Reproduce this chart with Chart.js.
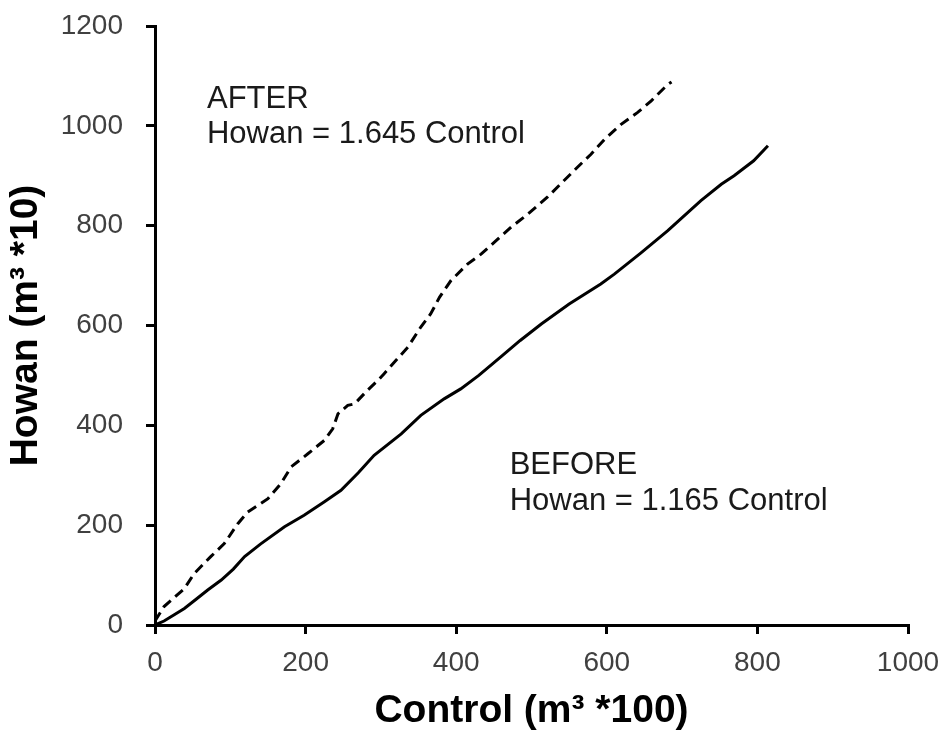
<!DOCTYPE html>
<html>
<head>
<meta charset="utf-8">
<script src="https://cdn.jsdelivr.net/npm/chart.js@4"></script>
<style>
  html, body { margin: 0; padding: 0; background: #fff; }
  #wrap { width: 949px; height: 736px; }
</style>
</head>
<body>
<div id="wrap"><canvas id="howan"></canvas></div>
<script>
// ---- data ----
// BEFORE (solid line)
const beforeX = [0, 12, 25, 39, 55, 70, 88, 104, 119, 140, 172, 198, 225, 247, 270, 291, 327, 353, 384, 406, 430, 460, 485, 513, 550, 592, 610, 645, 681, 725, 752, 769, 795, 814];
const beforeY = [0, 8, 20, 33, 52, 70, 90, 112, 137, 162, 197, 220, 247, 270, 305, 340, 383, 420, 453, 473, 500, 538, 570, 603, 643, 683, 703, 745, 790, 850, 883, 900, 930, 960];

// AFTER (dashed line)
const afterX = [0, 12, 39, 52, 74, 92, 110, 123, 150, 167, 181, 203, 225, 236, 243, 256, 265, 282, 296, 304, 336, 353, 366, 378, 393, 415, 433, 453, 473, 495, 521, 541, 561, 579, 597, 619, 641, 659, 681, 686];
const afterY = [8, 37, 73, 103, 137, 163, 203, 226, 253, 283, 317, 343, 370, 393, 423, 440, 443, 470, 490, 503, 557, 597, 623, 657, 690, 723, 743, 770, 797, 823, 857, 887, 917, 943, 973, 1003, 1027, 1050, 1083, 1088];

const xTicks = [0, 200, 400, 600, 800, 1000];
const yTicks = [0, 200, 400, 600, 800, 1000, 1200];

// text labels inside the plot (anchored in data units)
const noteText = ["AFTER", "Howan = 1.645 Control", "BEFORE", "Howan = 1.165 Control"];
const noteX = [69, 69, 471, 471];
const noteY = [1052, 982, 319, 248];

function toPoints(xs, ys) {
    let pts = [];
    for (let i = 0; i < xs.length; i++)
        pts.push({x: xs[i], y: ys[i]});
    return pts;
}

// draws the two equations inside the plot
const notesPlugin = {
    id: 'notes',
    afterDatasetsDraw(chart) {
        const ctx = chart.ctx;
        const sx = chart.scales.x, sy = chart.scales.y;
        ctx.save();
        ctx.font = '31px "Liberation Sans", Arial, sans-serif';
        ctx.fillStyle = '#1a1a1a';
        ctx.textAlign = 'left';
        ctx.textBaseline = 'middle';
        for (let i = 0; i < noteText.length; i++)
            ctx.fillText(noteText[i], sx.getPixelForValue(noteX[i]), sy.getPixelForValue(noteY[i]));
        ctx.restore();
    }
};

const tickFont = {family: '"Liberation Sans", Arial, sans-serif', size: 28};
const titleFont = {family: '"Liberation Sans", Arial, sans-serif', size: 39, weight: 'bold'};

var howan = new Chart(document.getElementById('howan'),
{
    type: 'scatter',
    data: {
        datasets: [
            {
                label: 'BEFORE',
                data: toPoints(beforeX, beforeY),
                showLine: true,
                borderColor: '#000',
                borderWidth: 3,
                pointRadius: 0,
                tension: 0
            },
            {
                label: 'AFTER',
                data: toPoints(afterX, afterY),
                showLine: true,
                borderColor: '#000',
                borderWidth: 3,
                borderDash: [10, 6],
                pointRadius: 0,
                tension: 0
            }
        ]
    },
    options: {
        responsive: true,
        maintainAspectRatio: false,
        animation: false,
        layout: { padding: {top: 26, right: 41, bottom: 0, left: 0} },
        plugins: {
            legend: { display: false },
            tooltip: { enabled: false }
        },
        scales: {
            x: {
                type: 'linear',
                min: 0, max: 1000,
                afterBuildTicks: (scale) => { scale.ticks = xTicks.map(v => ({value: v})); },
                afterFit: (scale) => {
                    scale.height = 111;
                    scale.paddingLeft = 0;
                    scale.paddingRight = 0;
                },
                border: { display: true, color: '#000', width: 3 },
                grid: { display: true, drawOnChartArea: false, drawTicks: true, tickLength: 9, color: '#000', lineWidth: 3 },
                ticks: { color: '#404040', font: tickFont, padding: 12, maxRotation: 0, callback: (v) => String(v) },
                title: { display: true, text: 'Control (m³ *100)', color: '#000', font: titleFont, padding: {top: 0, bottom: 1} }
            },
            y: {
                type: 'linear',
                min: 0, max: 1200,
                afterBuildTicks: (scale) => { scale.ticks = yTicks.map(v => ({value: v})); },
                afterFit: (scale) => {
                    scale.width = 155;
                    scale.paddingTop = 0;
                    scale.paddingBottom = 0;
                },
                border: { display: true, color: '#000', width: 3 },
                grid: { display: true, drawOnChartArea: false, drawTicks: true, tickLength: 9, color: '#000', lineWidth: 3 },
                ticks: { color: '#404040', font: tickFont, padding: 23, callback: (v) => String(v) },
                title: { display: true, text: 'Howan (m³ *10)', color: '#000', font: titleFont, padding: {top: 3, bottom: 0} }
            }
        }
    },
    plugins: [notesPlugin]
});
</script>
</body>
</html>
